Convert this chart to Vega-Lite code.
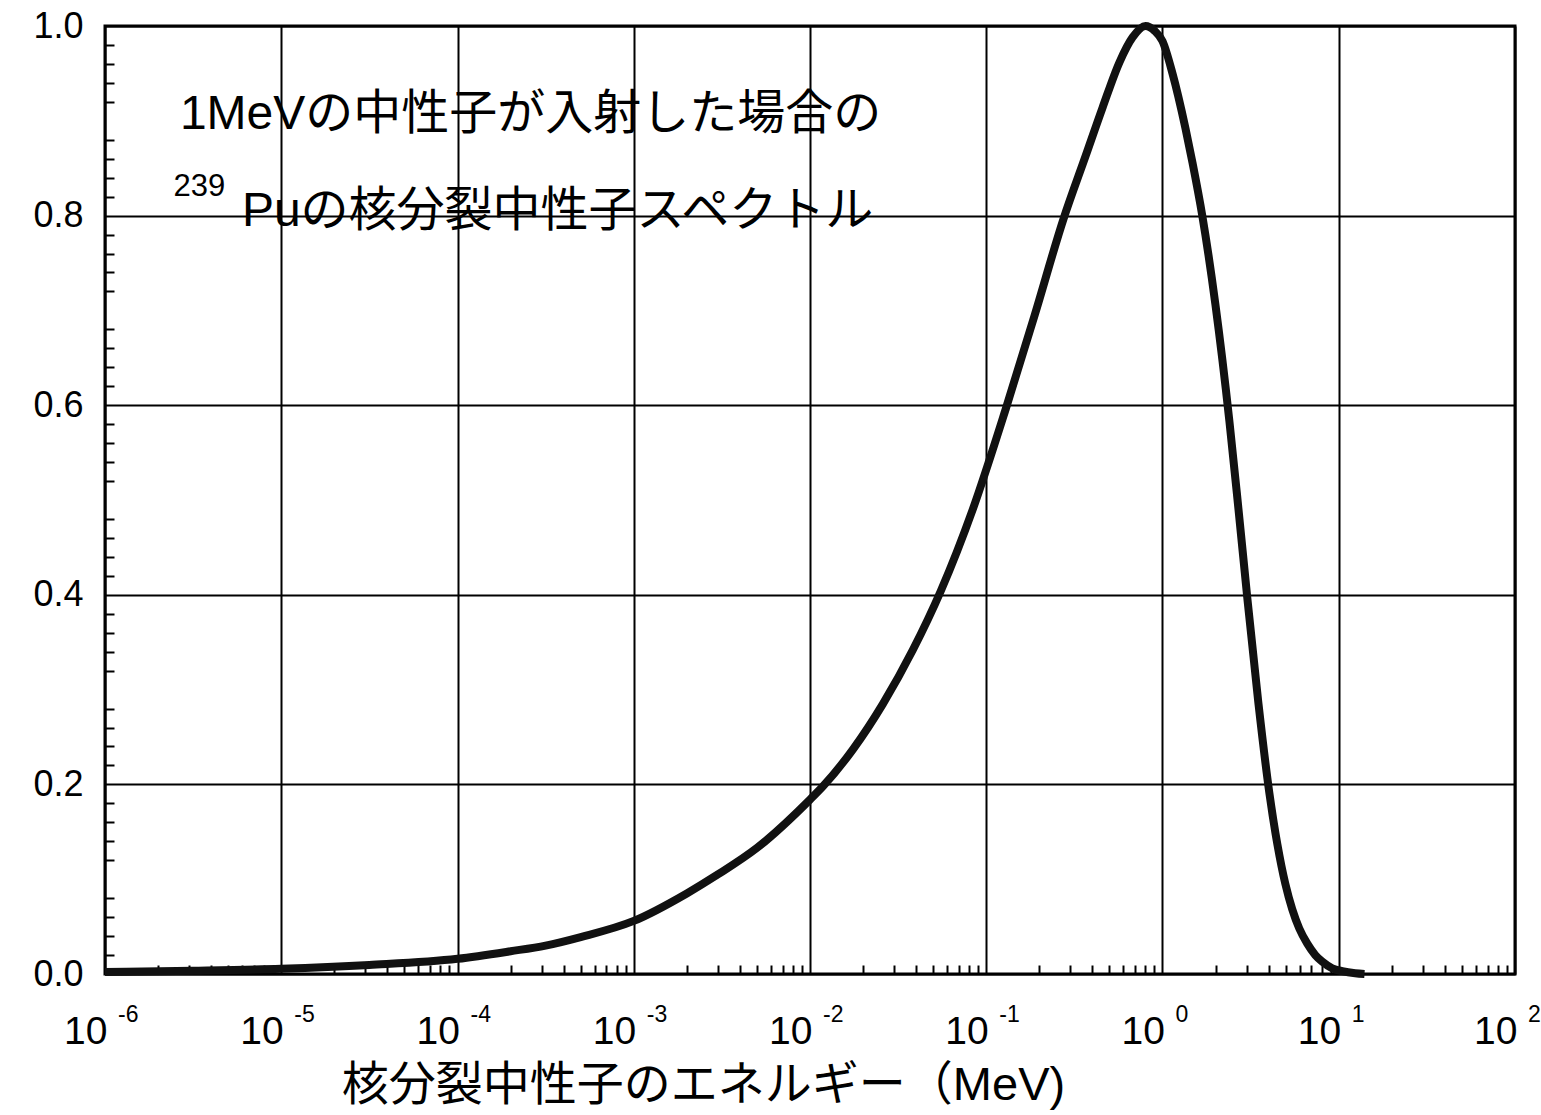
{
  "$schema": "https://vega.github.io/schema/vega-lite/v6.json",
  "width": 1410,
  "height": 948,
  "autosize": "none",
  "padding": {"left": 105, "top": 26, "right": 26, "bottom": 141},
  "background": "white",
  "config": {"view": {"stroke": "black", "strokeWidth": 3}, "font": "Liberation Sans"},
  "layer": [
    {
      "data": {"values": [
        {"E": 1e-6, "v": 0.0022}, {"E": 3.16e-6, "v": 0.0035}, {"E": 1e-5, "v": 0.0055}, {"E": 3.16e-5, "v": 0.0095},
        {"E": 1e-4, "v": 0.016}, {"E": 2e-4, "v": 0.024}, {"E": 3.16e-4, "v": 0.03}, {"E": 5e-4, "v": 0.039},
        {"E": 1e-3, "v": 0.056}, {"E": 2e-3, "v": 0.085}, {"E": 3e-3, "v": 0.105}, {"E": 5e-3, "v": 0.133},
        {"E": 1e-2, "v": 0.184}, {"E": 1.185e-2, "v": 0.198}, {"E": 1.753e-2, "v": 0.237}, {"E": 2.593e-2, "v": 0.285},
        {"E": 3.837e-2, "v": 0.342}, {"E": 5.521e-2, "v": 0.404}, {"E": 8.38e-2, "v": 0.49}, {"E": 0.129, "v": 0.596},
        {"E": 0.1883, "v": 0.695}, {"E": 0.2749, "v": 0.797}, {"E": 0.3663, "v": 0.863}, {"E": 0.4571, "v": 0.914},
        {"E": 0.5706, "v": 0.962}, {"E": 0.676, "v": 0.988}, {"E": 0.801, "v": 1.0}, {"E": 0.901, "v": 0.995},
        {"E": 1.0, "v": 0.984}, {"E": 1.139, "v": 0.95}, {"E": 1.35, "v": 0.892}, {"E": 1.479, "v": 0.856},
        {"E": 1.685, "v": 0.799}, {"E": 1.997, "v": 0.706}, {"E": 2.397, "v": 0.583}, {"E": 2.696, "v": 0.491},
        {"E": 3.031, "v": 0.396}, {"E": 3.499, "v": 0.286}, {"E": 4.039, "v": 0.191}, {"E": 4.483, "v": 0.137},
        {"E": 4.977, "v": 0.095}, {"E": 5.452, "v": 0.068}, {"E": 5.972, "v": 0.048}, {"E": 6.63, "v": 0.032},
        {"E": 7.36, "v": 0.02}, {"E": 8.06, "v": 0.013}, {"E": 9.19, "v": 0.006}, {"E": 10.47, "v": 0.003},
        {"E": 12.4, "v": 0.0008}, {"E": 14, "v": 0.0}
      ]},
      "mark": {"type": "line", "color": "#111111", "strokeWidth": 8, "interpolate": "monotone"},
      "encoding": {
        "x": {
          "field": "E", "type": "quantitative",
          "scale": {"type": "log", "domain": [1e-6, 100], "nice": false},
          "axis": {
            "orient": "bottom",
            "values": [1e-6, 1e-5, 1e-4, 1e-3, 1e-2, 1e-1, 1, 10, 100],
            "grid": true, "gridColor": "black", "gridWidth": 2, "gridOpacity": 1,
            "ticks": false, "domain": false,
            "labelExpr": "'10'", "labelAlign": "right", "labelOffset": 2, "labelBaseline": "alphabetic",
            "labelPadding": 69, "labelFontSize": 39, "labelColor": "black", "labelFont": "Liberation Sans",
            "labelFlush": false, "labelOverlap": false, "labelBound": false,
            "title": "核分裂中性子のエネルギー（MeV)",
            "titleFont": "Liberation Sans, Noto Sans CJK JP", "titleFontSize": 47, "titleFontWeight": "normal",
            "titleColor": "black", "titleX": 598, "titleY": 111, "titleAlign": "center", "titleBaseline": "middle"
          }
        },
        "y": {
          "field": "v", "type": "quantitative",
          "scale": {"domain": [0, 1], "nice": false},
          "axis": {
            "orient": "left",
            "values": [0, 0.2, 0.4, 0.6, 0.8, 1.0], "format": ".1f",
            "grid": true, "gridColor": "black", "gridWidth": 2, "gridOpacity": 1,
            "ticks": false, "domain": false,
            "labelFontSize": 36, "labelPadding": 22, "labelColor": "black", "labelFont": "Liberation Sans",
            "labelFlush": false, "labelOverlap": false, "labelBound": false,
            "title": null
          }
        }
      }
    },
    {
      "data": {"values": [
        {"E": 1e-6, "exp": "-6"}, {"E": 1e-5, "exp": "-5"}, {"E": 1e-4, "exp": "-4"}, {"E": 1e-3, "exp": "-3"},
        {"E": 1e-2, "exp": "-2"}, {"E": 1e-1, "exp": "-1"}, {"E": 1, "exp": "0"}, {"E": 10, "exp": "1"},
        {"E": 100, "exp": "2"}
      ]},
      "mark": {"type": "text", "align": "left", "baseline": "alphabetic", "dx": 13, "dy": 48,
               "fontSize": 23, "font": "Liberation Sans", "color": "black"},
      "encoding": {
        "x": {
          "field": "E", "type": "quantitative",
          "scale": {"type": "log", "domain": [1e-6, 100], "nice": false},
          "axis": {
            "orient": "bottom",
            "values": [2e-6, 3e-6, 4e-6, 5e-6, 6e-6, 7e-6, 8e-6, 9e-6,
                       2e-5, 3e-5, 4e-5, 5e-5, 6e-5, 7e-5, 8e-5, 9e-5,
                       2e-4, 3e-4, 4e-4, 5e-4, 6e-4, 7e-4, 8e-4, 9e-4,
                       2e-3, 3e-3, 4e-3, 5e-3, 6e-3, 7e-3, 8e-3, 9e-3,
                       2e-2, 3e-2, 4e-2, 5e-2, 6e-2, 7e-2, 8e-2, 9e-2,
                       0.2, 0.3, 0.4, 0.5, 0.6, 0.7, 0.8, 0.9,
                       2, 3, 4, 5, 6, 7, 8, 9,
                       20, 30, 40, 50, 60, 70, 80, 90],
            "grid": false, "domain": false, "labels": false, "title": null,
            "ticks": true, "tickSize": -9, "tickWidth": 2, "tickColor": "black"
          }
        },
        "y": {
          "datum": 0, "type": "quantitative",
          "scale": {"domain": [0, 1], "nice": false},
          "axis": {
            "orient": "left",
            "values": [0.02, 0.04, 0.06, 0.08, 0.12, 0.14, 0.16, 0.18,
                       0.22, 0.24, 0.26, 0.28, 0.32, 0.34, 0.36, 0.38,
                       0.42, 0.44, 0.46, 0.48, 0.52, 0.54, 0.56, 0.58,
                       0.62, 0.64, 0.66, 0.68, 0.72, 0.74, 0.76, 0.78,
                       0.82, 0.84, 0.86, 0.88, 0.92, 0.94, 0.96, 0.98],
            "grid": false, "domain": false, "labels": false, "title": null,
            "ticks": true, "tickSize": -9, "tickWidth": 2, "tickColor": "black"
          }
        },
        "text": {"field": "exp", "type": "nominal"}
      }
    },
    {
      "data": {"values": [{}]},
      "mark": {"type": "text", "align": "left", "baseline": "middle", "fontSize": 48,
               "font": "Liberation Sans, Noto Sans CJK JP", "color": "black",
               "text": "1MeVの中性子が入射した場合の"},
      "encoding": {
        "x": {"datum": 2.66e-6, "type": "quantitative", "axis": null},
        "y": {"datum": 0.906, "type": "quantitative", "axis": null}
      }
    },
    {
      "data": {"values": [{}]},
      "mark": {"type": "text", "align": "left", "baseline": "middle", "fontSize": 48,
               "font": "Liberation Sans, Noto Sans CJK JP", "color": "black",
               "text": "Puの核分裂中性子スペクトル"},
      "encoding": {
        "x": {"datum": 5.98e-6, "type": "quantitative", "axis": null},
        "y": {"datum": 0.804, "type": "quantitative", "axis": null}
      }
    },
    {
      "data": {"values": [{}]},
      "mark": {"type": "text", "align": "left", "baseline": "middle", "fontSize": 31,
               "font": "Liberation Sans", "color": "black", "text": "239"},
      "encoding": {
        "x": {"datum": 2.45e-6, "type": "quantitative", "axis": null},
        "y": {"datum": 0.83, "type": "quantitative", "axis": null}
      }
    }
  ],
  "resolve": {"axis": {"x": "independent", "y": "independent"}}
}
